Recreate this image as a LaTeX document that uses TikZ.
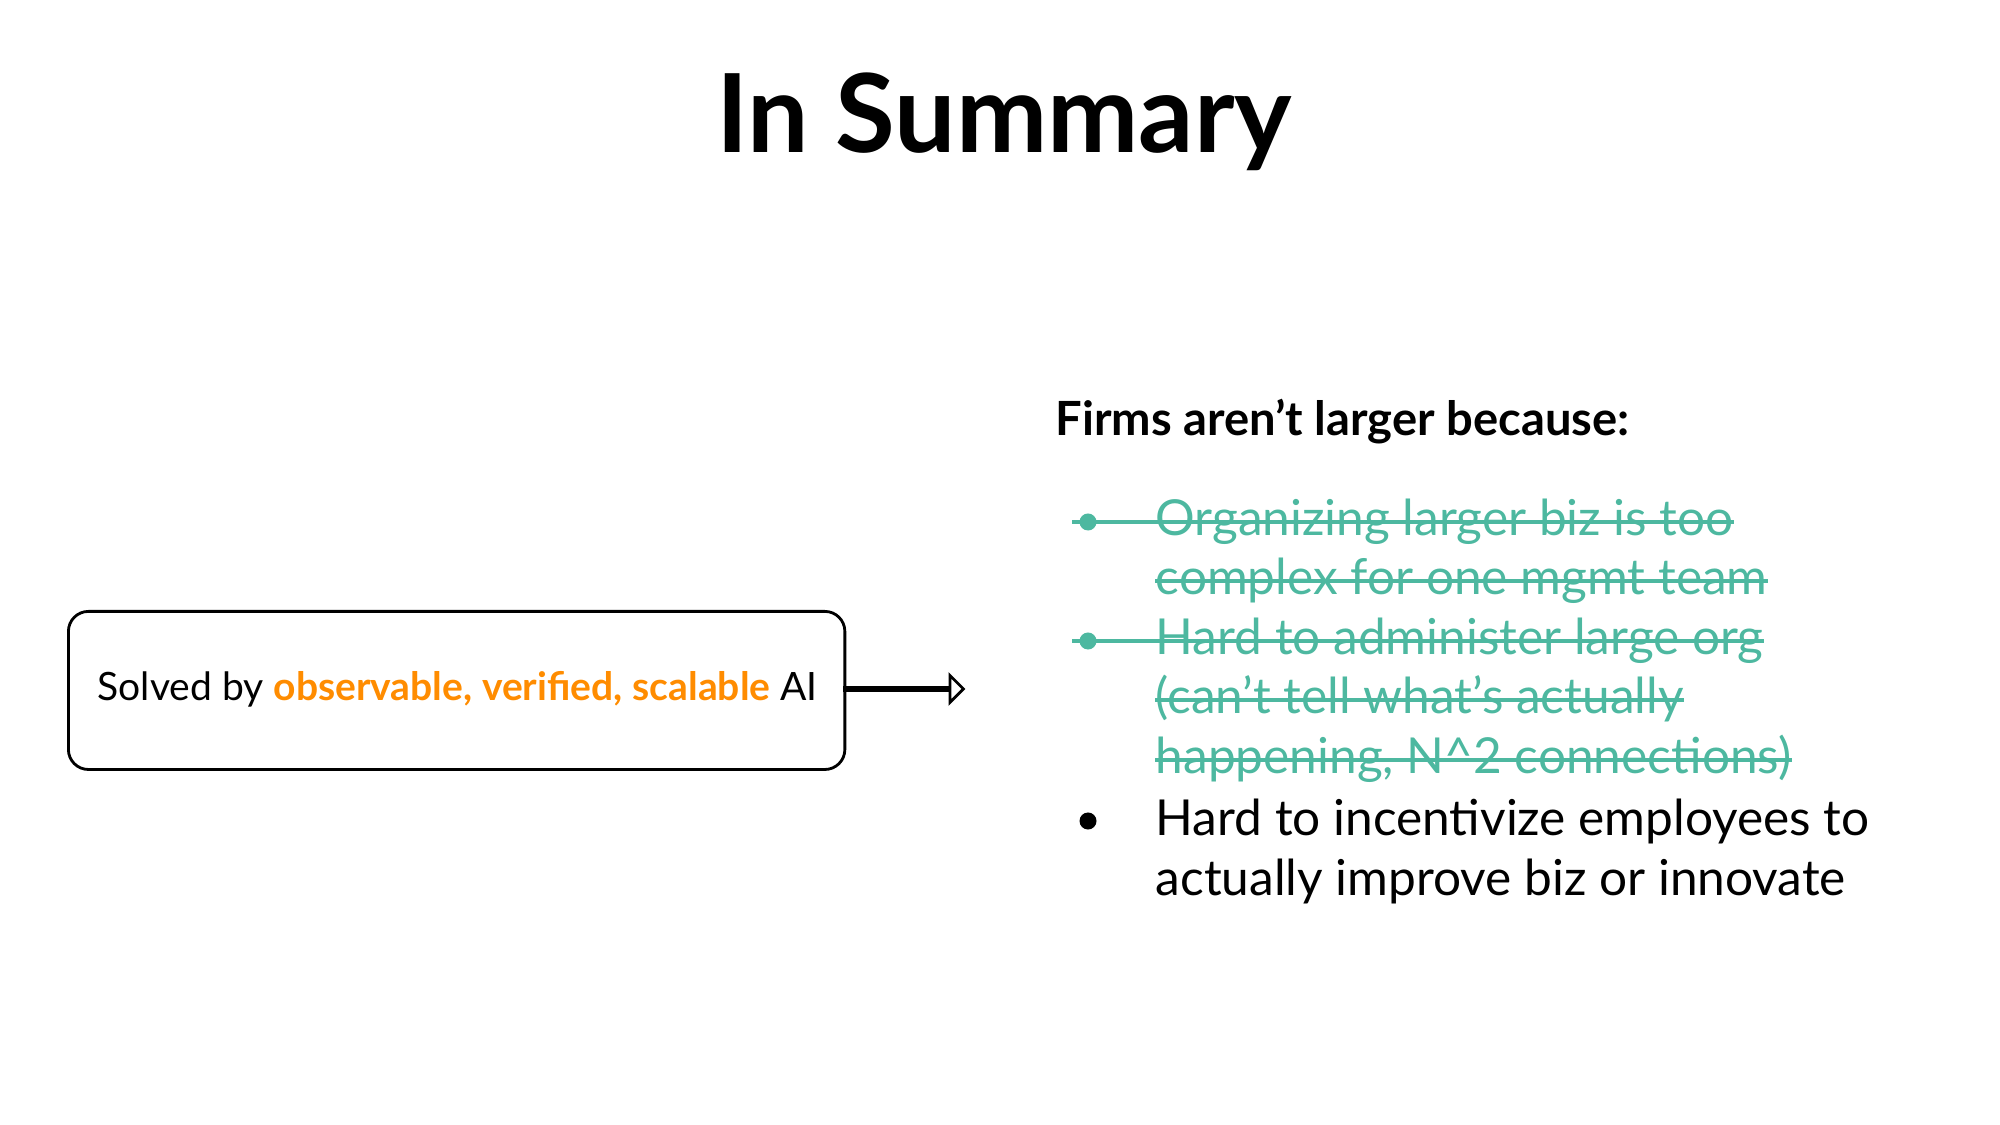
\documentclass[tikz,border=0pt]{standalone}
\usepackage{fontspec}
\setmainfont{Lato}
\usetikzlibrary{shapes.arrows}
\definecolor{teal1}{HTML}{4DB8A0}
\definecolor{orng}{HTML}{FF8C00}
\begin{document}
\begin{tikzpicture}[x=0.01cm,y=-0.01cm,
  body/.style={anchor=base west,inner sep=0pt,font=\fontsize{14.1}{17}\selectfont},
  strk/.style={teal1,line width=1.1pt},
  dot/.style={circle,fill=#1,inner sep=0pt,minimum size=0.17cm}]
\useasboundingbox (0,0) rectangle (2000,1125);
\node[font=\fontsize{31}{36}\selectfont\bfseries] (title) at (1004,122) {In Summary};
\node[draw,line width=0.8pt,rounded corners=0.2cm,minimum width=7.76cm,minimum height=1.58cm,anchor=north west,inner sep=0pt] (box) at (67,610) {};
\node[anchor=base west,inner sep=0pt,font=\fontsize{11.1}{14}\selectfont] (boxtxt) at (97,700) {Solved by \textcolor{orng}{\bfseries observable, verified, scalable} AI};
\node[single arrow,draw,line width=0.8pt,minimum height=1.19cm,minimum width=0.18cm,single arrow head extend=0.12cm,inner sep=0pt,anchor=tail] (arr) at (843,689) {};
\node[body,font=\fontsize{13.4}{15}\selectfont\bfseries] (head) at (1055,436) {Firms aren’t larger because:};
\node[body,text=teal1] (l1) at (1155,536) {Organizing larger biz is too};
\node[body,text=teal1] (l2) at (1155,595) {complex for one mgmt team};
\node[body,text=teal1] (l3) at (1155,655) {Hard to administer large org};
\node[body,text=teal1] (l4) at (1155,714) {(can’t tell what’s actually};
\node[body,text=teal1] (l5) at (1155,774) {happening, N\^{}2 connections)};
\node[dot=teal1] (b1) at (1088,522) {};
\node[dot=teal1] (b2) at (1088,641) {};
\coordinate (s1) at (1072,522);
\coordinate (s2) at (1072,641);
\draw[strk] (s1) -- (s1 -| l1.east);
\draw[strk] ([yshift=0.14cm]l2.base west) -- ([yshift=0.14cm]l2.base east);
\draw[strk] (s2) -- (s2 -| l3.east);
\draw[strk] ([yshift=0.14cm]l4.base west) -- ([yshift=0.14cm]l4.base east);
\draw[strk] ([yshift=0.14cm]l5.base west) -- ([yshift=0.14cm]l5.base east);
\node[dot=black] (b3) at (1088,821) {};
\node[body] (l6) at (1155,835) {Hard to incentivize employees to};
\node[body] (l7) at (1155,895) {actually improve biz or innovate};
\end{tikzpicture}
\end{document}
